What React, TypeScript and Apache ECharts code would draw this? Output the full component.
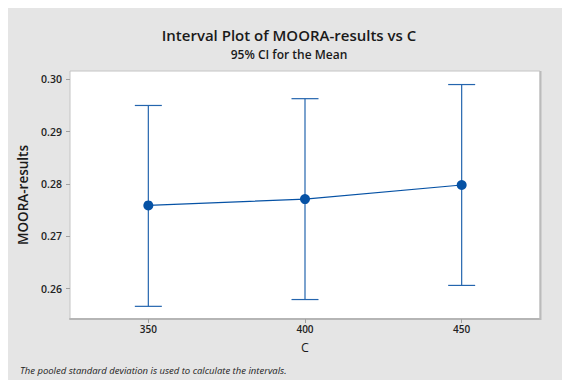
import React, { useEffect, useRef } from "react";
import * as echarts from "echarts";

// Interval plot data: group means with 95% CI bounds (pooled SD)
const categories = ["350", "400", "450"];
const means = [0.2759, 0.2771, 0.2798];
const lower = [0.2566, 0.2579, 0.2606];
const upper = [0.295, 0.2963, 0.299];
const yTicks = [0.26, 0.27, 0.28, 0.29, 0.3];

const FONT = "'Open Sans', 'Noto Sans', sans-serif";
const BAR_COLOR = "#2465AE";
const MEAN_COLOR = "#0652A5";

const GRID = { left: 70, top: 71, right: 22, bottom: 61 };
const W = 562;
const H = 380;

export default function App() {
  const ref = useRef<HTMLDivElement>(null);

  useEffect(() => {
    if (!ref.current) return;
    const chart = echarts.init(ref.current, undefined, { renderer: "svg" });

    const plotRight = W - GRID.right;
    const plotBottom = H - GRID.bottom;

    chart.setOption({
      animation: false,
      backgroundColor: "#ffffff",
      graphic: [
        {
          type: "rect",
          z: -10,
          silent: true,
          shape: { x: 8, y: 8, width: W - 8, height: H - 8 },
          style: { fill: "#E5E5E5" },
        },
        {
          type: "line",
          z: 10,
          silent: true,
          shape: { x1: plotRight + 0.5, y1: GRID.top, x2: plotRight + 0.5, y2: plotBottom + 1 },
          style: { stroke: "#BBBBBB", lineWidth: 2 },
        },
        {
          type: "text",
          left: 20,
          top: 365,
          style: {
            text: "The pooled standard deviation is used to calculate the intervals.",
            font: `italic 9.5px ${FONT}`,
            fill: "#222222",
          },
        },
      ],
      title: [
        {
          text: "Interval Plot of MOORA-results vs C",
          left: 289,
          textAlign: "center",
          top: 25,
          padding: 0,
          textStyle: { fontFamily: FONT, fontSize: 15, fontWeight: 600, color: "#1a1a1a", lineHeight: 20 },
        },
        {
          text: "95% CI for the Mean",
          left: 289,
          textAlign: "center",
          top: 46,
          padding: 0,
          textStyle: { fontFamily: FONT, fontSize: 12, fontWeight: 600, color: "#1a1a1a", lineHeight: 16 },
        },
      ],
      grid: {
        ...GRID,
        show: true,
        backgroundColor: "#ffffff",
        borderColor: "#C4C4C4",
        borderWidth: 1,
        containLabel: false,
      },
      xAxis: {
        type: "category",
        data: categories,
        boundaryGap: true,
        name: "C",
        nameLocation: "middle",
        nameGap: 22,
        nameTextStyle: { fontFamily: FONT, fontSize: 12.5, fontWeight: 500, color: "#1a1a1a" },
        axisLine: { show: true, lineStyle: { color: "#B5B5B5", width: 2 } },
        axisTick: { show: true, alignWithLabel: true, length: 4, lineStyle: { color: "#A0A0A0" } },
        axisLabel: { fontFamily: FONT, fontSize: 10, fontWeight: 600, color: "#222222", margin: 5 },
        splitLine: { show: false },
      },
      yAxis: {
        type: "value",
        min: 0.25418,
        max: 0.30159,
        name: "MOORA-results",
        nameLocation: "middle",
        nameGap: 35,
        nameTextStyle: { fontFamily: FONT, fontSize: 13.5, fontWeight: 600, color: "#1a1a1a" },
        axisLine: { show: false },
        axisTick: {
          show: true,
          length: 4,
          customValues: yTicks,
          lineStyle: { color: "#A0A0A0" },
        },
        axisLabel: {
          fontFamily: FONT,
          fontSize: 10.5,
          fontWeight: 600,
          color: "#222222",
          margin: 8,
          customValues: yTicks,
          formatter: (v: number) => v.toFixed(2),
        },
        splitLine: { show: false },
      },
      series: [
        {
          type: "custom",
          z: 2,
          data: categories.map((_, i) => [i, lower[i], upper[i]]),
          renderItem: (_params: any, api: any) => {
            const x = api.value(0);
            const lo = api.coord([x, api.value(1)]);
            const hi = api.coord([x, api.value(2)]);
            const half = 13.5;
            const style = { stroke: BAR_COLOR, lineWidth: 1.2 };
            return {
              type: "group",
              children: [
                { type: "line", shape: { x1: lo[0], y1: lo[1], x2: hi[0], y2: hi[1] }, style },
                { type: "line", shape: { x1: hi[0] - half, y1: hi[1], x2: hi[0] + half, y2: hi[1] }, style },
                { type: "line", shape: { x1: lo[0] - half, y1: lo[1], x2: lo[0] + half, y2: lo[1] }, style },
              ],
            };
          },
        },
        {
          type: "line",
          z: 3,
          data: means,
          symbol: "circle",
          symbolSize: 10,
          itemStyle: { color: MEAN_COLOR },
          lineStyle: { color: MEAN_COLOR, width: 1.2 },
        },
      ],
    });

    return () => chart.dispose();
  }, []);

  return (
    <div
      ref={ref}
      style={{ position: "fixed", left: 0, top: 0, width: W, height: H }}
    />
  );
}
